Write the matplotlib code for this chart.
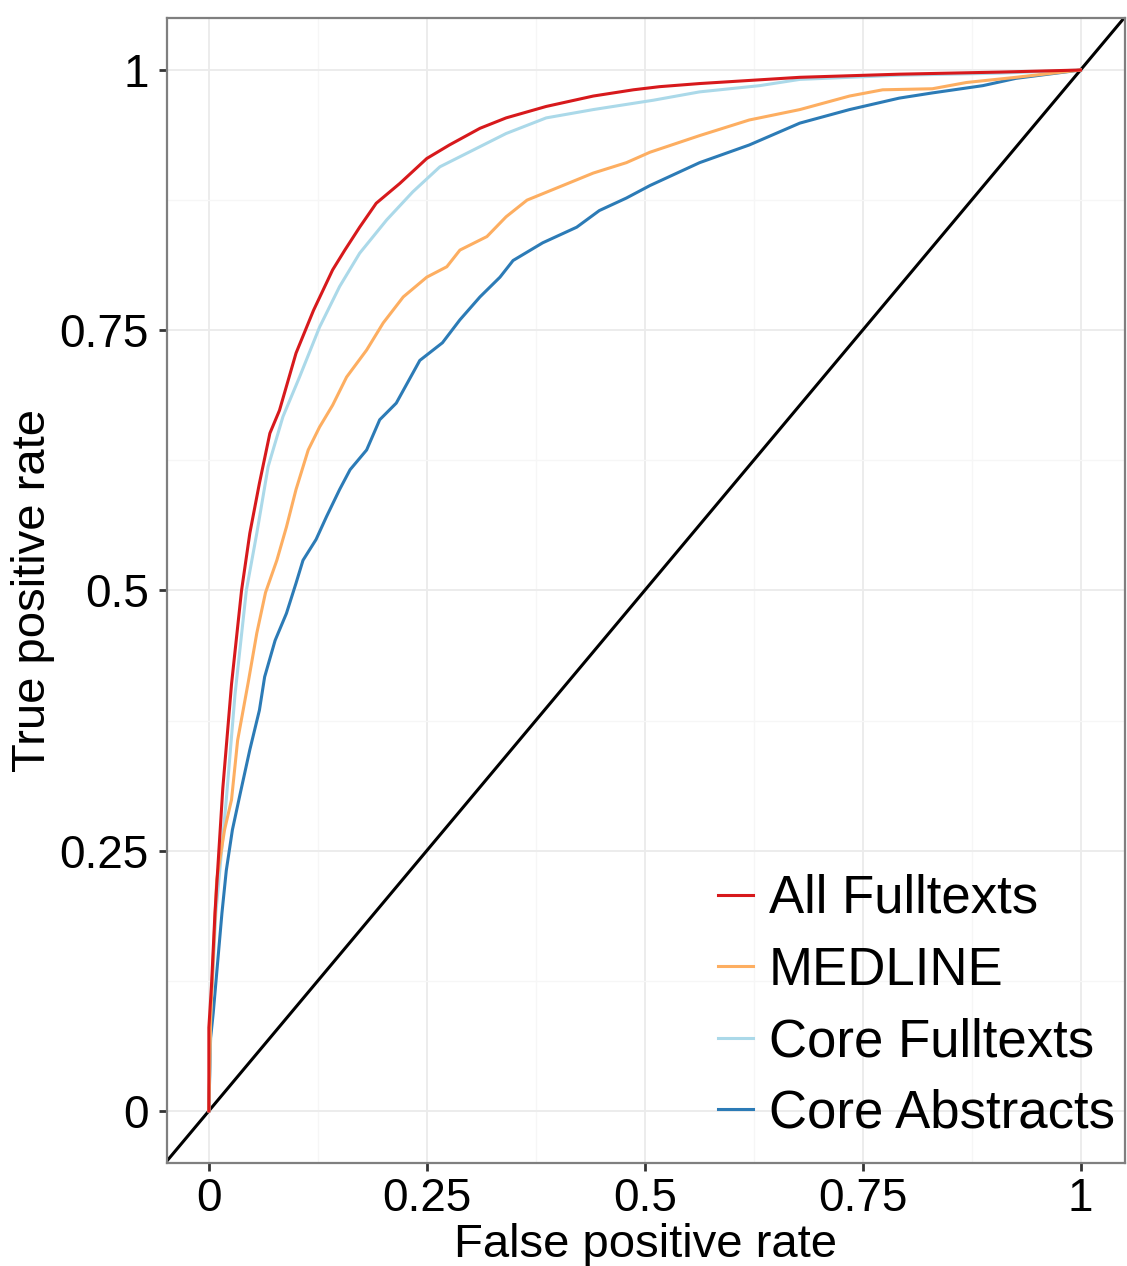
import numpy as np
import matplotlib.pyplot as plt
from matplotlib.ticker import FixedLocator

plt.rcParams['font.family'] = ['Liberation Sans', 'DejaVu Sans']

# ROC curves
fpr_all = [0, 0, 0.003, 0.007, 0.016, 0.026, 0.0375, 0.047, 0.058, 0.07, 0.081, 0.10, 0.12,
           0.142, 0.156, 0.173, 0.192, 0.219, 0.25, 0.276, 0.311, 0.341, 0.387, 0.441,
           0.487, 0.517, 0.563, 0.678, 0.792, 0.907, 1]
tpr_all = [0, 0.08, 0.12, 0.19, 0.31, 0.41, 0.50, 0.555, 0.603, 0.651, 0.673, 0.728, 0.769,
           0.808, 0.827, 0.849, 0.872, 0.891, 0.915, 0.928, 0.944, 0.954, 0.965, 0.975,
           0.981, 0.984, 0.987, 0.993, 0.996, 0.998, 1]

fpr_medline = [0, 0.002, 0.009, 0.018, 0.026, 0.033, 0.045, 0.055, 0.065, 0.078, 0.089, 0.10,
               0.114, 0.127, 0.142, 0.158, 0.181, 0.20, 0.223, 0.25, 0.273, 0.288, 0.319,
               0.341, 0.365, 0.403, 0.441, 0.479, 0.506, 0.563, 0.62, 0.678, 0.735, 0.773,
               0.83, 0.869, 0.926, 1]
tpr_medline = [0, 0.09, 0.222, 0.27, 0.299, 0.356, 0.411, 0.459, 0.498, 0.529, 0.561, 0.597,
               0.635, 0.657, 0.678, 0.705, 0.731, 0.757, 0.782, 0.801, 0.811, 0.827, 0.840,
               0.859, 0.875, 0.888, 0.901, 0.911, 0.921, 0.937, 0.952, 0.962, 0.975, 0.981,
               0.982, 0.988, 0.993, 1]

fpr_core_full = [0, 0.002, 0.008, 0.020, 0.030, 0.043, 0.055, 0.068, 0.085, 0.104, 0.127,
                 0.150, 0.173, 0.204, 0.234, 0.265, 0.303, 0.341, 0.387, 0.441, 0.51, 0.563,
                 0.632, 0.678, 0.792, 0.907, 1]
tpr_core_full = [0, 0.09, 0.19, 0.299, 0.40, 0.50, 0.555, 0.619, 0.667, 0.705, 0.753,
                 0.792, 0.824, 0.856, 0.883, 0.907, 0.923, 0.939, 0.954, 0.962, 0.971, 0.979,
                 0.985, 0.991, 0.995, 0.997, 1]

fpr_core_abs = [0, 0.002, 0.005, 0.015, 0.02, 0.027, 0.036, 0.047, 0.058, 0.064, 0.076, 0.089,
                0.10, 0.108, 0.123, 0.135, 0.15, 0.162, 0.181, 0.196, 0.215, 0.242, 0.268,
                0.288, 0.311, 0.334, 0.349, 0.383, 0.422, 0.448, 0.479, 0.506, 0.563, 0.62,
                0.678, 0.735, 0.792, 0.83, 0.888, 0.926, 1]
tpr_core_abs = [0, 0.07, 0.094, 0.19, 0.231, 0.27, 0.305, 0.347, 0.385, 0.417, 0.452, 0.478,
                0.507, 0.529, 0.549, 0.571, 0.597, 0.616, 0.635, 0.664, 0.680, 0.721, 0.738,
                0.760, 0.782, 0.801, 0.817, 0.834, 0.849, 0.865, 0.877, 0.889, 0.911, 0.928,
                0.949, 0.962, 0.973, 0.978, 0.985, 0.992, 1]

series = [
    ('All Fulltexts', fpr_all, tpr_all, '#d7191c'),
    ('MEDLINE', fpr_medline, tpr_medline, '#fdae61'),
    ('Core Fulltexts', fpr_core_full, tpr_core_full, '#abd9e9'),
    ('Core Abstracts', fpr_core_abs, tpr_core_abs, '#2c7bb6'),
]
ticks = [0, 0.25, 0.5, 0.75, 1]
tick_labels = ['0', '0.25', '0.5', '0.75', '1']

fig = plt.figure(figsize=(11.27, 12.66), dpi=100)
ax = fig.add_axes([0.1482, 0.0814, 0.85, 0.9044])

ax.axline((0, 0), (1, 1), color='black', lw=2.2, zorder=2)
# draw in reverse so the red curve sits on top
for name, fx, ty, col in reversed(series):
    ax.plot(fx, ty, color=col, lw=2.2, label=name, zorder=3)

ax.set_xlim(-0.048, 1.051)
ax.set_ylim(-0.05, 1.05)
ax.set_xticks(ticks)
ax.set_xticklabels(tick_labels)
ax.set_yticks(ticks)
ax.set_yticklabels(tick_labels)
minor = [0.125, 0.375, 0.625, 0.875]
ax.xaxis.set_minor_locator(FixedLocator(minor))
ax.yaxis.set_minor_locator(FixedLocator(minor))
ax.grid(which='major', color='#ebebeb', lw=1.3)
ax.grid(which='minor', color='#f6f6f6', lw=1.0)
ax.set_axisbelow(True)
ax.tick_params(which='major', length=6, width=2, color='#333333', labelsize=33, pad=4)
ax.tick_params(axis='y', pad=7)
ax.tick_params(which='minor', length=0)
for sp in ax.spines.values():
    sp.set_color('#7f7f7f')
    sp.set_linewidth(1.6)

ax.set_xlabel('False positive rate', fontsize=34, labelpad=1.5)
ax.set_ylabel('True positive rate', fontsize=34, labelpad=3)

handles, labels = ax.get_legend_handles_labels()
order = [labels.index(s[0]) for s in series]
leg = ax.legend([handles[i] for i in order], [labels[i] for i in order],
                loc='lower left', bbox_to_anchor=(0.575, 0.021), fontsize=38,
                frameon=False, handlelength=0.66, handletextpad=0.3,
                labelspacing=0.41, borderpad=0, borderaxespad=0)
for line in leg.get_lines():
    line.set_linewidth(2.2)

fig.savefig('out.png', dpi=100)
